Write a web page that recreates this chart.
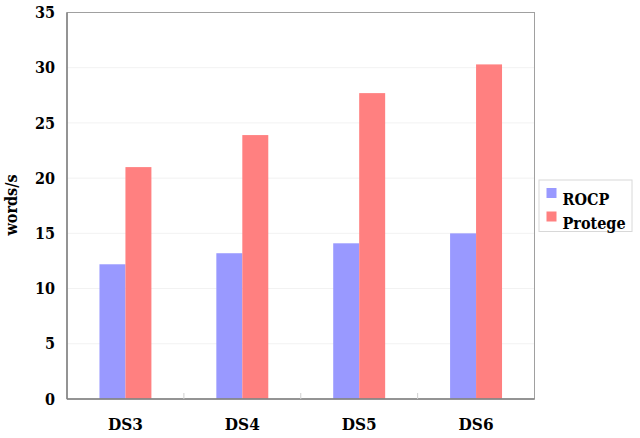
<!DOCTYPE html>
<html lang="en">
  <head>
    <meta charset="UTF-8" />
    <title>words/s by dataset</title>
    <script src="https://d3js.org/d3.v7.min.js"></script>
    <style>
      * {
        margin: 0;
        padding: 0;
      }

      body {
        background: #ffffff;
      }

      svg text {
        font-family: "DejaVu Serif Condensed", "DejaVu Serif", serif;
        font-stretch: condensed;
        font-weight: bold;
        fill: #000;
      }

      .tick-label {
        font-size: 16px;
      }

      .cat-label {
        font-size: 17px;
      }

      .axis-label {
        font-size: 16px;
      }

      .legend-text {
        font-size: 16px;
      }
    </style>
  </head>

  <body>
    <div id="chart"></div>

    <script>
      const categories = ["DS3", "DS4", "DS5", "DS6"];
      const seriesNames = ["ROCP", "Protege"];
      const rocpValues = [12.2, 13.2, 14.1, 15.0];
      const protegeValues = [21.0, 23.9, 27.7, 30.3];
      const yTicks = [0, 5, 10, 15, 20, 25, 30, 35];
      const colors = ["#9999ff", "#ff8080"];

      const W = 640,
        H = 438;
      const plot = { left: 67, top: 12.5, right: 534.5, bottom: 399 };

      const svg = d3
        .select("#chart")
        .append("svg")
        .attr("width", W)
        .attr("height", H);

      const x = d3
        .scaleBand()
        .domain(categories)
        .range([plot.left, plot.right]);

      const xInner = d3
        .scaleBand()
        .domain(seriesNames)
        .range([0, x.bandwidth()])
        .paddingOuter(1.25);

      const y = d3
        .scaleLinear()
        .domain([0, 35])
        .range([plot.bottom, plot.top]);

      // faint gridlines
      svg
        .append("g")
        .selectAll("line")
        .data(yTicks.filter((d) => d > 0 && d < 35))
        .enter()
        .append("line")
        .attr("x1", plot.left)
        .attr("x2", plot.right)
        .attr("y1", (d) => y(d))
        .attr("y2", (d) => y(d))
        .attr("stroke", "#f2f2f2")
        .attr("stroke-width", 1);

      // bars
      const rows = categories.map((c, i) => ({
        cat: c,
        vals: [rocpValues[i], protegeValues[i]],
      }));

      const groups = svg
        .append("g")
        .selectAll("g")
        .data(rows)
        .enter()
        .append("g")
        .attr("transform", (d) => `translate(${x(d.cat)},0)`);

      groups
        .selectAll("rect")
        .data((d) => d.vals.map((v, j) => ({ name: seriesNames[j], v: v, j: j })))
        .enter()
        .append("rect")
        .attr("x", (d) => xInner(d.name))
        .attr("width", xInner.bandwidth())
        .attr("y", (d) => y(d.v))
        .attr("height", (d) => y(0) - y(d.v))
        .attr("fill", (d) => colors[d.j]);

      // plot frame
      svg
        .append("rect")
        .attr("x", plot.left)
        .attr("y", plot.top)
        .attr("width", plot.right - plot.left)
        .attr("height", plot.bottom - plot.top)
        .attr("fill", "none")
        .attr("stroke", "#a0a0a0")
        .attr("stroke-width", 1);

      // left and bottom axis lines a bit darker
      svg
        .append("line")
        .attr("x1", plot.left)
        .attr("x2", plot.left)
        .attr("y1", plot.top)
        .attr("y2", plot.bottom)
        .attr("stroke", "#808080")
        .attr("stroke-width", 1.5);

      svg
        .append("line")
        .attr("x1", plot.left)
        .attr("x2", plot.right)
        .attr("y1", plot.bottom)
        .attr("y2", plot.bottom)
        .attr("stroke", "#808080")
        .attr("stroke-width", 1.5);

      // x category separators (small inner ticks)
      svg
        .append("g")
        .selectAll("line")
        .data(categories.slice(1))
        .enter()
        .append("line")
        .attr("x1", (d) => x(d))
        .attr("x2", (d) => x(d))
        .attr("y1", plot.bottom - 6)
        .attr("y2", plot.bottom)
        .attr("stroke", "#d0d0d0")
        .attr("stroke-width", 1);

      // y tick labels
      svg
        .append("g")
        .selectAll("text")
        .data(yTicks)
        .enter()
        .append("text")
        .attr("class", "tick-label")
        .attr("x", 55)
        .attr("y", (d) => y(d))
        .attr("dy", "0.35em")
        .attr("text-anchor", "end")
        .text((d) => d);

      // x category labels
      svg
        .append("g")
        .selectAll("text")
        .data(categories)
        .enter()
        .append("text")
        .attr("class", "cat-label")
        .attr("x", (d) => x(d) + x.bandwidth() / 2)
        .attr("y", 430)
        .attr("text-anchor", "middle")
        .text((d) => d);

      // y axis title
      svg
        .append("text")
        .attr("class", "axis-label")
        .attr("transform", "translate(17,205) rotate(-90)")
        .attr("text-anchor", "middle")
        .text("words/s");

      // legend
      const legend = svg.append("g");
      legend
        .append("rect")
        .attr("x", 539)
        .attr("y", 180)
        .attr("width", 93)
        .attr("height", 51.5)
        .attr("fill", "#fff")
        .attr("stroke", "#d8d8d8")
        .attr("stroke-width", 1);

      const items = legend
        .selectAll("g")
        .data(seriesNames)
        .enter()
        .append("g")
        .attr("transform", (d, i) => `translate(546.5,${188 + i * 23.5})`);

      items
        .append("rect")
        .attr("width", 10)
        .attr("height", 10)
        .attr("fill", (d, i) => colors[i]);

      items
        .append("text")
        .attr("class", "legend-text")
        .attr("x", 16)
        .attr("y", 17)
        .text((d) => d);
    </script>
  </body>
</html>
